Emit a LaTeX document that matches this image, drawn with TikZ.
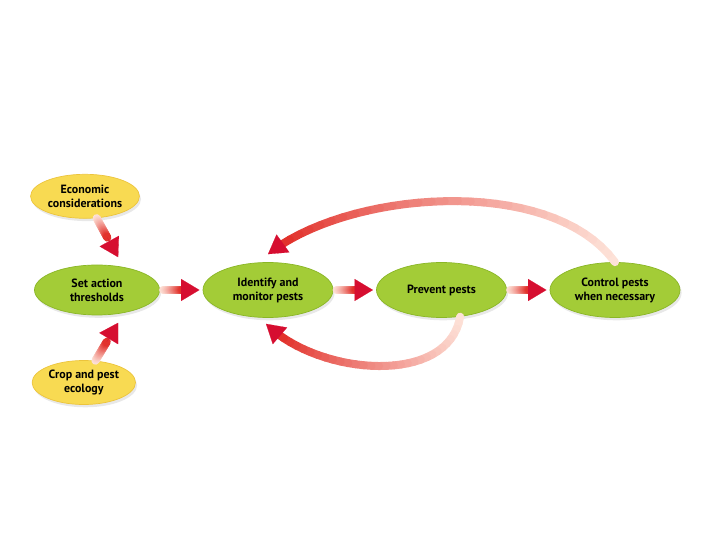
\documentclass[tikz,border=0pt]{standalone}
\usepackage{fontspec}
\setmainfont{PT Sans}
\usetikzlibrary{shapes.geometric, arrows.meta, positioning, shadows}

\definecolor{yellowfill}{RGB}{248,218,82}
\definecolor{yellowedge}{RGB}{236,196,60}
\definecolor{greenfill}{RGB}{163,204,55}
\definecolor{greenedge}{RGB}{138,182,38}
\definecolor{arrowred}{RGB}{214,14,48}
\definecolor{shaftred}{RGB}{226,50,44}
\definecolor{shaftpale}{RGB}{255,236,226}

% shaft fading from pale to red, then a solid head
\newcommand{\fadeto}[3]{%
  \foreach \k in {1,...,30}{%
    \pgfmathsetmacro{\pa}{#3*(\k-1)/30}%
    \pgfmathsetmacro{\pb}{#3*\k/30}%
    \pgfmathsetmacro{\tint}{4+96*(\k/30)^1.3}%
    \path #1 #2 coordinate[pos=\pa] (fa) coordinate[pos=\pb] (fb);
    \draw[shaft, shaftred!\tint!shaftpale] (fa) -- (fb);
  }
  \path #1 #2 coordinate[pos=#3] (fa) coordinate[pos=1] (fb);
  \draw[head] (fa) -- (fb);
}

\begin{document}
\begin{tikzpicture}[
    node distance=1.15cm and 1.07cm,
    blob/.style={ellipse, draw, line width=0.5pt, align=center, inner sep=1pt,
      font=\fontsize{8.5}{10}\selectfont\bfseries,
      drop shadow={opacity=0.18, shadow xshift=0.04cm, shadow yshift=-0.07cm}},
    factor/.style={blob, fill=yellowfill, draw=yellowedge, minimum width=2.5cm, minimum height=1.1cm},
    stage/.style={blob, fill=greenfill, draw=greenedge, minimum width=3.25cm, minimum height=1.375cm},
    shaft/.style={line width=0.2cm, line cap=round},
    head/.style={-{Triangle[length=4.6mm, width=5.5mm]}, line width=0.1pt, arrowred}
]
\useasboundingbox (0,0) rectangle (18,13.5);

\node[stage, minimum width=3.125cm, minimum height=1.25cm] (set) at (2.425,6.25) {Set action\\thresholds};
\node[factor, above=of set, xshift=-0.3cm] (econ) {Economic\\considerations};
\node[factor, below=1.12cm of set, xshift=-0.33cm] (crop) {Crop and pest\\ecology};
\node[stage, right=of set] (ident) {Identify and\\monitor pests};
\node[stage, right=of ident] (prev) {Prevent pests};
\node[stage, right=of prev] (ctrl) {Control pests\\when necessary};

\fadeto{(econ.-62)}{-- ([shift={(0.2,0.2)}]set.62)}{0.5}
\fadeto{(crop.62)}{-- ([shift={(0.2,-0.2)}]set.-62)}{0.5}
\fadeto{([xshift=0.08cm]set.east)}{-- ([xshift=-0.08cm]ident.west)}{0.55}
\fadeto{([xshift=0.08cm]ident.east)}{-- ([xshift=-0.08cm]prev.west)}{0.55}
\fadeto{([xshift=0.08cm]prev.east)}{-- ([xshift=-0.08cm]ctrl.west)}{0.55}
\fadeto{(ctrl.north)}{.. controls +(-1.6,2.2) and +(2.0,1.6) .. ([yshift=0.2cm]ident.north)}{0.95}
\fadeto{(prev.-55)}{.. controls +(-0.3,-1.75) and +(1.3,-1.3) .. ([shift={(-0.05,-0.15)}]ident.south)}{0.93}
\end{tikzpicture}
\end{document}
